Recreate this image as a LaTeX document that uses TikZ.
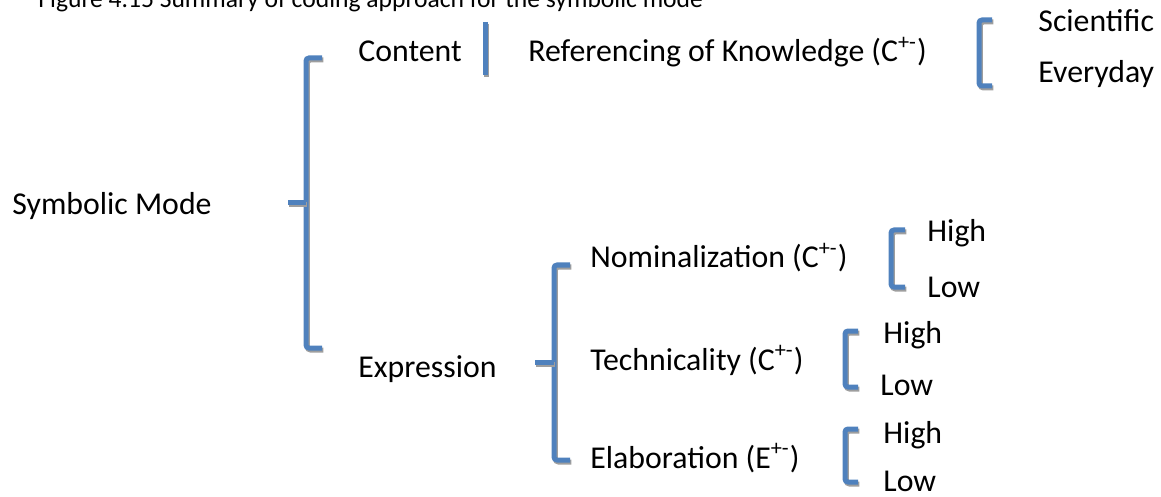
\documentclass[tikz,border=0pt]{standalone}
\usepackage{fontspec}
\setmainfont{Carlito}
\usepackage{tikz}
\usetikzlibrary{positioning}
\definecolor{brkblue}{HTML}{4F81BD}
\definecolor{brkgray}{HTML}{9E9E9E}
\newcommand{\mainsize}{\fontsize{15.9pt}{18pt}\selectfont}
\newcommand{\titlesize}{\fontsize{12.8pt}{15pt}\selectfont}
% bracket: shadow first, then the blue stroke
\newcommand{\brkpath}[1]{\draw[brkshadow] #1; \draw[brk] #1;}
\tikzset{
  lbl/.style={anchor=base west, inner sep=0pt, font=\mainsize},
  brk/.style={draw=brkblue, line width=2.5pt, rounded corners=1.5pt},
  brkshadow/.style={brk, draw=brkgray, xshift=0.7pt, yshift=-1pt},
}

\begin{document}
\begin{tikzpicture}[x=0.5pt, y=-0.5pt]
    \useasboundingbox (0,0) rectangle (1161,497);
    \clip (0,0) rectangle (1161,497);

    \node[lbl, font=\titlesize] (title) at (38, 8) {Figure 4.15 Summary of coding approach for the symbolic mode};

    \node[lbl] (symb) at (12, 215) {Symbolic Mode};
    \node[lbl] (content) at (358, 62) {Content};
    \node[lbl] (refknow) at (528, 62) {Referencing of Knowledge (C\textsuperscript{+-})};
    \node[lbl] (sci) at (1038, 32) {Scientific};
    \node[lbl] (every) at (1038, 83) {Everyday};

    \node[lbl] (expr) at (358, 377) {Expression};
    \node[lbl] (nomin) at (590, 268) {Nominalization (C\textsuperscript{+-})};
    \node[lbl] (nomhigh) at (927, 242) {High};
    \node[lbl] (nomlow) at (927, 297) {Low};
    \node[lbl] (tech) at (590, 370) {Technicality (C\textsuperscript{+-})};
    \node[lbl] (techhigh) at (883, 343) {High};
    \node[lbl] (techlow) at (880, 395) {Low};
    \node[lbl] (elab) at (590, 468) {Elaboration (E\textsuperscript{+-})};
    \node[lbl] (elabhigh) at (883, 443) {High};
    \node[lbl] (elablow) at (883, 491) {Low};

    % brackets
    \brkpath{(322,58) -- (306,58) -- (306,348) -- (322,348)}
    \brkpath{(288,203) -- (306,203)}
    \brkpath{(485,22) -- (485,75)}
    \brkpath{(992,20) -- (979,20) -- (979,86) -- (992,86)}
    \brkpath{(570,265) -- (554,265) -- (554,460) -- (570,460)}
    \brkpath{(535,362) -- (554,362)}
    \brkpath{(905,230) -- (891,230) -- (891,287) -- (905,287)}
    \brkpath{(858,331) -- (845,331) -- (845,387) -- (858,387)}
    \brkpath{(858,429) -- (845,429) -- (845,482) -- (858,482)}
\end{tikzpicture}
\end{document}
